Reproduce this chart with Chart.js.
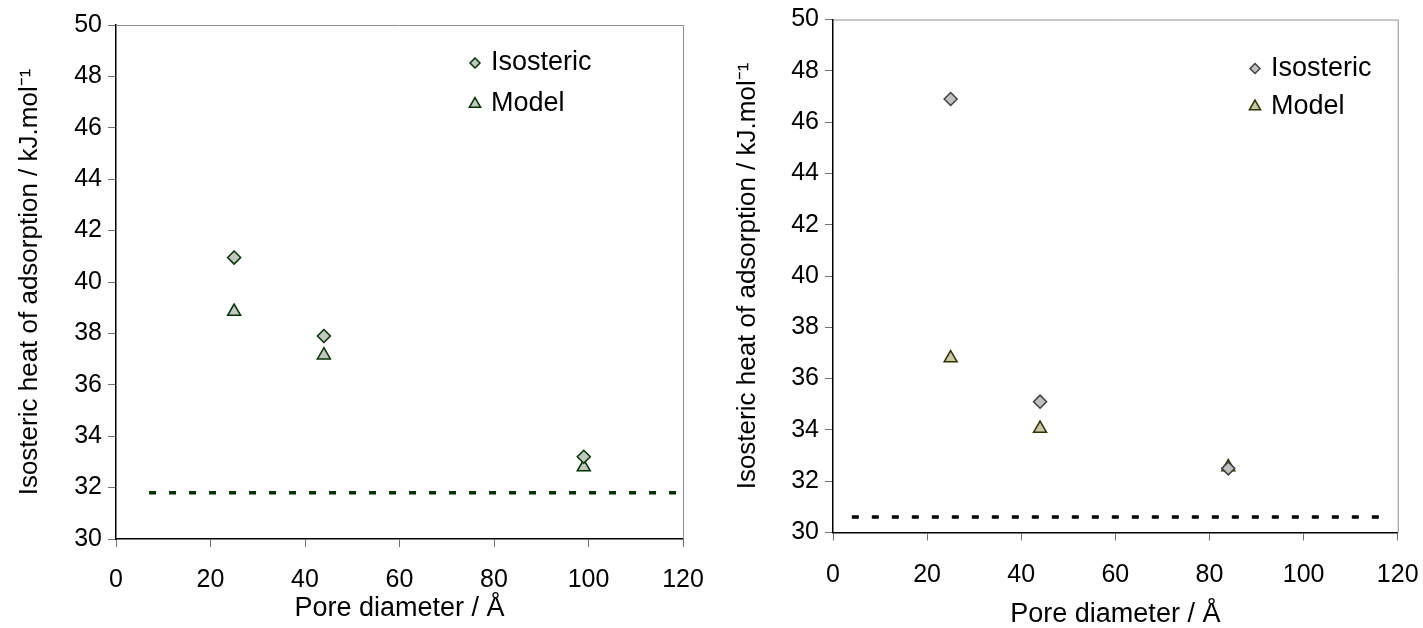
<!DOCTYPE html>
<html>
<head>
<meta charset="utf-8">
<script src="https://cdn.jsdelivr.net/npm/chart.js@4/dist/chart.umd.min.js"></script>
<style>
  html, body { margin: 0; padding: 0; background: #fff; }
  #wrap { position: relative; width: 1423px; height: 628px; }
  .box { position: absolute; top: 0; height: 628px; }
  #left { left: 0; width: 711px; }
  #right { left: 711px; width: 712px; }
</style>
</head>
<body>
<div id="wrap">
  <div class="box" id="left"><canvas id="graph1"></canvas></div>
  <div class="box" id="right"><canvas id="graph2"></canvas></div>
</div>
<script>
// 系列名
const seriesNames = ['Isosteric', 'Model'];

// 軸タイトル
const xTitle = 'Pore diameter / Å';
const yTitle = 'Isosteric heat of adsorption / kJ.mol⁻¹';

// 目盛り
const xTicks = [0, 20, 40, 60, 80, 100, 120];
const yTicks = [30, 32, 34, 36, 38, 40, 42, 44, 46, 48, 50];

// 左グラフ
const leftIsoX = [25, 44, 99];
const leftIsoY = [40.95, 37.9, 33.2];
const leftModelX = [25, 44, 99];
const leftModelY = [38.85, 37.15, 32.8];
const leftLineX = [7, 119];
const leftLineY = [31.8, 31.8];

// 右グラフ
const rightIsoX = [25, 44, 84];
const rightIsoY = [46.9, 35.1, 32.5];
const rightModelX = [25, 44, 84];
const rightModelY = [36.8, 34.05, 32.55];
const rightLineX = [4, 116];
const rightLineY = [30.6, 30.6];

const FONT = '"Liberation Sans", Arial, sans-serif';
Chart.defaults.font.family = FONT;
Chart.defaults.color = '#000';

function toPoints(xs, ys) {
  return xs.map(function(x, i) { return {x: x, y: ys[i]}; });
}

// 枠線(上・右)
const framePlugin = {
  id: 'frame',
  beforeDatasetsDraw(chart) {
    const a = chart.chartArea, ctx = chart.ctx;
    ctx.save();
    ctx.strokeStyle = '#909090';
    ctx.lineWidth = 1;
    ctx.beginPath();
    ctx.moveTo(a.left, a.top + 0.5);
    ctx.lineTo(a.right + 0.5, a.top + 0.5);
    ctx.lineTo(a.right + 0.5, a.bottom);
    ctx.stroke();
    ctx.restore();
  }
};

// 凡例(グラフ内)
const innerLegend = {
  id: 'innerLegend',
  afterDatasetsDraw(chart, args, opts) {
    const a = chart.chartArea, ctx = chart.ctx;
    opts.items.forEach(function(idx, i) {
      const ds = chart.data.datasets[idx];
      const x = a.left + opts.x;
      const y = a.top + opts.y + i * opts.gap;
      ctx.save();
      ctx.fillStyle = ds.pointBackgroundColor;
      ctx.strokeStyle = ds.pointBorderColor;
      ctx.lineWidth = 1.5;
      Chart.helpers.drawPoint(ctx, {pointStyle: ds.pointStyle, radius: opts.radius[i], borderWidth: 1.5, rotation: 0}, x, y);
      ctx.fillStyle = '#000';
      ctx.font = opts.fontSize + 'px ' + FONT;
      ctx.textBaseline = 'middle';
      ctx.textAlign = 'left';
      ctx.fillText(ds.label, x + opts.textDx, y);
      ctx.restore();
    });
  }
};

function drawGraph(canvasId, cfg) {
  return new Chart(document.getElementById(canvasId), {
    type: 'scatter',
    data: {
      datasets: [
        {
          label: 'line',
          data: toPoints(cfg.lineX, cfg.lineY),
          showLine: true,
          pointRadius: 0,
          borderColor: cfg.lineColor,
          borderWidth: 3.5,
          borderDash: [7, 13],
          borderCapStyle: 'butt'
        },
        {
          label: seriesNames[0],
          data: toPoints(cfg.isoX, cfg.isoY),
          pointStyle: 'rectRot',
          pointRadius: 6.5,
          pointBackgroundColor: cfg.isoFill,
          pointBorderColor: cfg.isoBorder,
          pointBorderWidth: 1.5
        },
        {
          label: seriesNames[1],
          data: toPoints(cfg.modelX, cfg.modelY),
          pointStyle: 'triangle',
          pointRadius: 7.5,
          pointBackgroundColor: cfg.modelFill,
          pointBorderColor: cfg.modelBorder,
          pointBorderWidth: 1.5
        }
      ]
    },
    options: {
      responsive: true,
      maintainAspectRatio: false,
      animation: false,
      events: [],
      layout: { padding: cfg.padding },
      plugins: {
        legend: { display: false },
        tooltip: { enabled: false },
        innerLegend: cfg.legend
      },
      scales: {
        x: {
          type: 'linear',
          min: 0, max: 120,
          afterBuildTicks: function(s) { s.ticks = xTicks.map(function(v) { return {value: v}; }); },
          afterFit: function(s) { s.height = cfg.xHeight; s.paddingLeft = 0; s.paddingRight = 0; },
          border: { color: '#000', width: 1.5 },
          grid: { drawOnChartArea: false, tickLength: 8, color: '#707070' },
          ticks: { font: { size: 25 }, padding: cfg.xTickPad, maxRotation: 0 },
          title: { display: true, text: xTitle, font: { size: 27, lineHeight: 1 }, padding: { top: 0, bottom: cfg.xTitlePad } }
        },
        y: {
          type: 'linear',
          min: 30, max: 50,
          afterBuildTicks: function(s) { s.ticks = yTicks.map(function(v) { return {value: v}; }); },
          afterFit: function(s) { s.width = cfg.yWidth; s.paddingTop = 0; s.paddingBottom = 0; },
          border: { color: '#000', width: 1.5 },
          grid: { drawOnChartArea: false, tickLength: 8, color: '#707070' },
          ticks: { font: { size: 25 }, padding: 6 },
          title: { display: true, text: yTitle, font: { size: 26, lineHeight: 1 }, padding: { top: cfg.yTitlePad, bottom: 0 } }
        }
      }
    },
    plugins: [framePlugin, innerLegend]
  });
}

drawGraph('graph1', {
  isoX: leftIsoX, isoY: leftIsoY, modelX: leftModelX, modelY: leftModelY,
  lineX: leftLineX, lineY: leftLineY,
  lineColor: '#003300',
  isoFill: '#c0c8c0', isoBorder: '#003300',
  modelFill: '#c0c8c0', modelBorder: '#003300',
  padding: { top: 25, right: 28, left: 0, bottom: 0 },
  yWidth: 116, xHeight: 89,
  xTickPad: 18, xTitlePad: 6, yTitlePad: 17,
  legend: { items: [1, 2], x: 359, y: 38, gap: 41, radius: [5, 6.5], textDx: 16, fontSize: 27 }
});

drawGraph('graph2', {
  isoX: rightIsoX, isoY: rightIsoY, modelX: rightModelX, modelY: rightModelY,
  lineX: rightLineX, lineY: rightLineY,
  lineColor: '#000000',
  isoFill: '#c0c0c0', isoBorder: '#404040',
  modelFill: '#c8c8a8', modelBorder: '#333300',
  padding: { top: 19.5, right: 25.3, left: 0, bottom: 0 },
  yWidth: 122, xHeight: 95.5,
  xTickPad: 20, xTitlePad: 0, yTitlePad: 24,
  legend: { items: [1, 2], x: 422, y: 49, gap: 38, radius: [5, 6.5], textDx: 16, fontSize: 27 }
});
</script>
</body>
</html>
